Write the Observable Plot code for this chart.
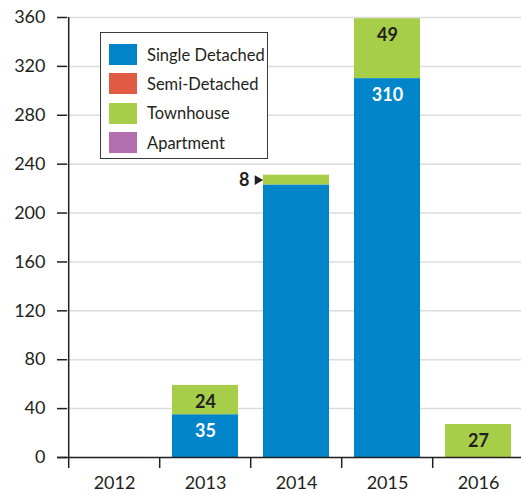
<!DOCTYPE html>
<html>
<head>
<meta charset="utf-8">
<script src="https://cdn.jsdelivr.net/npm/d3@7"></script>
<script src="https://cdn.jsdelivr.net/npm/@observablehq/plot@0.6"></script>
<style>
  html, body { margin: 0; padding: 0; background: #fff; }
  #wrap { position: relative; width: 521px; height: 494px; overflow: hidden; font-family: Lato, "Open Sans", sans-serif; }
  #legend { position: absolute; left: 100px; top: 32px; width: 168px; height: 127px; border: 1px solid #3a3a3a; background: #fff; box-sizing: border-box; padding-top: 7px; }
  .row { display: flex; align-items: center; height: 29.3px; padding-left: 8px; font-size: 16.5px; color: #231f20; }
  .sw { width: 28px; height: 21px; margin-right: 10px; }
</style>
</head>
<body>
<div id="wrap"></div>
<script>
const years = ["2012", "2013", "2014", "2015", "2016"];
const types = ["Single Detached", "Semi-Detached", "Townhouse", "Apartment"];
const colors = ["#0085ca", "#e05a44", "#a6ce48", "#b36eae"];
const singleDetached = [0, 35, 223, 310, 0];
const semiDetached = [0, 0, 0, 0, 0];
const townhouse = [0, 24, 8, 49, 27];
const apartment = [0, 0, 0, 0, 0];
const yTicks = [0, 40, 80, 120, 160, 200, 240, 280, 320, 360];
// segments whose value is written inside the bar
const labelled = [["2013", "Single Detached"], ["2013", "Townhouse"], ["2015", "Single Detached"], ["2015", "Townhouse"], ["2016", "Townhouse"]];
// segment whose value is written beside the bar with a pointer
const pointed = [["2014", "Townhouse"]];

const series = [singleDetached, semiDetached, townhouse, apartment];
const data = [];
years.forEach((yr, i) => types.forEach((t, j) => data.push({year: yr, type: t, value: series[j][i]})));
const isIn = (list) => (d) => list.some(([y, t]) => y === d.year && t === d.type);

const W = 521, H = 494, mL = 67, mR = -4, mT = 17, mB = 37;
const step = (W - mL - mR) / years.length;
const font = "Lato, 'Open Sans', sans-serif";

const chart = Plot.plot({
  width: W, height: H,
  marginLeft: mL, marginRight: mR, marginTop: mT, marginBottom: mB,
  style: {fontFamily: font, fontSize: "18px", color: "#231f20", overflow: "visible"},
  x: {domain: years, paddingInner: 0.28, paddingOuter: 0.14, label: null},
  y: {domain: [0, 360], label: null},
  color: {domain: types, range: colors},
  marks: [
    Plot.gridY(yTicks.filter(v => v > 0), {stroke: "#dcdcdc", strokeOpacity: 1, strokeWidth: 1.5}),
    Plot.barY(data, {x: "year", y: "value", fill: "type", order: types}),
    Plot.text(data.filter(isIn(labelled)), Plot.stackY2({
      x: "year", y: "value", z: "type", order: types,
      text: d => String(d.value),
      fill: d => d.type === "Single Detached" ? "#ffffff" : "#231f20",
      dy: 17, fontSize: 18, fontWeight: "bold"
    })),
    Plot.text(data.filter(isIn(pointed)), {
      x: "year", y: d => singleDetached[years.indexOf(d.year)] + d.value / 2,
      text: d => String(d.value), textAnchor: "end",
      dx: -step * 0.36 - 14, fontSize: 18, fontWeight: "bold", fill: "#231f20"
    }),
    Plot.dot(data.filter(isIn(pointed)), {
      x: "year", y: d => singleDetached[years.indexOf(d.year)] + d.value / 2,
      symbol: "triangle", rotate: 90, r: 3.6, fill: "#231f20", stroke: null,
      dx: -step * 0.36 - 6
    }),
    Plot.ruleY([0], {stroke: "#231f20", strokeWidth: 1.5, insetLeft: -10}),
    Plot.ruleX([0], {x: () => years[0], dx: -step / 2, stroke: "#231f20", strokeWidth: 1.5}),
    Plot.axisY({ticks: yTicks, tickSize: 10, tickPadding: 12, stroke: "#231f20", strokeWidth: 1.5, fontSize: 18, fill: "#231f20"}),
    Plot.axisX({tickSize: 11, dx: -step / 2, text: null, stroke: "#231f20", strokeWidth: 1.5}),
    Plot.axisX({tickSize: 0, tickPadding: 19, fontSize: 18, fill: "#231f20"})
  ]
});

const wrap = document.getElementById("wrap");
wrap.appendChild(chart);
const legend = document.createElement("div");
legend.id = "legend";
types.forEach((t, j) => {
  const row = document.createElement("div");
  row.className = "row";
  const sw = document.createElement("div");
  sw.className = "sw";
  sw.style.background = colors[j];
  const lab = document.createElement("span");
  lab.textContent = t;
  row.appendChild(sw);
  row.appendChild(lab);
  legend.appendChild(row);
});
wrap.appendChild(legend);
</script>
</body>
</html>
